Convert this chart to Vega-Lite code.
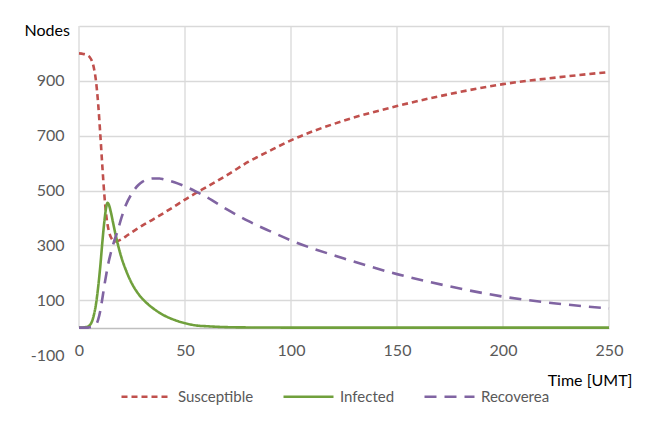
{
  "$schema": "https://vega.github.io/schema/vega-lite/v6.json",
  "width": 530,
  "height": 329,
  "autosize": {"type": "none"},
  "padding": {"left": 79, "top": 26, "right": 41, "bottom": 70},
  "background": "white",
  "config": {
    "view": {"stroke": null},
    "font": "Lato",
    "axis": {"labelFont": "Lato", "titleFont": "Lato"}
  },
  "datasets": {
    "grid": [{"t": 0}, {"t": 50}, {"t": 100}, {"t": 150}, {"t": 200}, {"t": 250}],
    "sir": [
      {"t": 0, "series": "Susceptible", "value": 1000},
      {"t": 2, "series": "Susceptible", "value": 998},
      {"t": 4, "series": "Susceptible", "value": 993},
      {"t": 5, "series": "Susceptible", "value": 987},
      {"t": 6, "series": "Susceptible", "value": 974},
      {"t": 7, "series": "Susceptible", "value": 948},
      {"t": 8, "series": "Susceptible", "value": 900},
      {"t": 9, "series": "Susceptible", "value": 820},
      {"t": 10, "series": "Susceptible", "value": 710},
      {"t": 11, "series": "Susceptible", "value": 590},
      {"t": 12, "series": "Susceptible", "value": 480},
      {"t": 13, "series": "Susceptible", "value": 400},
      {"t": 14, "series": "Susceptible", "value": 355},
      {"t": 15, "series": "Susceptible", "value": 330},
      {"t": 16, "series": "Susceptible", "value": 318},
      {"t": 17, "series": "Susceptible", "value": 314},
      {"t": 18, "series": "Susceptible", "value": 315},
      {"t": 20, "series": "Susceptible", "value": 322},
      {"t": 22, "series": "Susceptible", "value": 332},
      {"t": 25, "series": "Susceptible", "value": 348},
      {"t": 28, "series": "Susceptible", "value": 363},
      {"t": 30, "series": "Susceptible", "value": 373},
      {"t": 35, "series": "Susceptible", "value": 395},
      {"t": 40, "series": "Susceptible", "value": 418},
      {"t": 45, "series": "Susceptible", "value": 442},
      {"t": 50, "series": "Susceptible", "value": 467},
      {"t": 55, "series": "Susceptible", "value": 490},
      {"t": 60, "series": "Susceptible", "value": 512},
      {"t": 70, "series": "Susceptible", "value": 557},
      {"t": 80, "series": "Susceptible", "value": 605},
      {"t": 90, "series": "Susceptible", "value": 645},
      {"t": 100, "series": "Susceptible", "value": 683},
      {"t": 125, "series": "Susceptible", "value": 755},
      {"t": 150, "series": "Susceptible", "value": 808},
      {"t": 175, "series": "Susceptible", "value": 852},
      {"t": 200, "series": "Susceptible", "value": 888},
      {"t": 225, "series": "Susceptible", "value": 912},
      {"t": 250, "series": "Susceptible", "value": 932},
      {"t": 0, "series": "Infected", "value": 0},
      {"t": 2, "series": "Infected", "value": 0.5},
      {"t": 4, "series": "Infected", "value": 3},
      {"t": 5, "series": "Infected", "value": 8},
      {"t": 6, "series": "Infected", "value": 20},
      {"t": 7, "series": "Infected", "value": 45},
      {"t": 8, "series": "Infected", "value": 85},
      {"t": 9, "series": "Infected", "value": 145},
      {"t": 10, "series": "Infected", "value": 220},
      {"t": 11, "series": "Infected", "value": 310},
      {"t": 12, "series": "Infected", "value": 390},
      {"t": 13, "series": "Infected", "value": 445},
      {"t": 13.5, "series": "Infected", "value": 455},
      {"t": 14, "series": "Infected", "value": 450},
      {"t": 15, "series": "Infected", "value": 422},
      {"t": 16, "series": "Infected", "value": 385},
      {"t": 17, "series": "Infected", "value": 348},
      {"t": 18, "series": "Infected", "value": 314},
      {"t": 20, "series": "Infected", "value": 256},
      {"t": 22, "series": "Infected", "value": 212},
      {"t": 25, "series": "Infected", "value": 160},
      {"t": 28, "series": "Infected", "value": 123},
      {"t": 30, "series": "Infected", "value": 104},
      {"t": 32, "series": "Infected", "value": 89},
      {"t": 35, "series": "Infected", "value": 70},
      {"t": 40, "series": "Infected", "value": 45},
      {"t": 45, "series": "Infected", "value": 28},
      {"t": 50, "series": "Infected", "value": 16},
      {"t": 56, "series": "Infected", "value": 7},
      {"t": 60, "series": "Infected", "value": 5},
      {"t": 70, "series": "Infected", "value": 1.5},
      {"t": 80, "series": "Infected", "value": 0.5},
      {"t": 100, "series": "Infected", "value": 0},
      {"t": 150, "series": "Infected", "value": 0},
      {"t": 200, "series": "Infected", "value": 0},
      {"t": 250, "series": "Infected", "value": 0},
      {"t": 0, "series": "Recoverea", "value": 0},
      {"t": 4, "series": "Recoverea", "value": 0},
      {"t": 5, "series": "Recoverea", "value": 1},
      {"t": 6, "series": "Recoverea", "value": 2},
      {"t": 7, "series": "Recoverea", "value": 5},
      {"t": 8, "series": "Recoverea", "value": 10},
      {"t": 9, "series": "Recoverea", "value": 28},
      {"t": 10, "series": "Recoverea", "value": 60},
      {"t": 11, "series": "Recoverea", "value": 105},
      {"t": 12, "series": "Recoverea", "value": 155},
      {"t": 13, "series": "Recoverea", "value": 200},
      {"t": 14, "series": "Recoverea", "value": 240},
      {"t": 15, "series": "Recoverea", "value": 272},
      {"t": 16, "series": "Recoverea", "value": 300},
      {"t": 17, "series": "Recoverea", "value": 325},
      {"t": 18, "series": "Recoverea", "value": 347},
      {"t": 20, "series": "Recoverea", "value": 400},
      {"t": 22, "series": "Recoverea", "value": 445},
      {"t": 25, "series": "Recoverea", "value": 490},
      {"t": 28, "series": "Recoverea", "value": 520},
      {"t": 30, "series": "Recoverea", "value": 532},
      {"t": 35, "series": "Recoverea", "value": 544},
      {"t": 38, "series": "Recoverea", "value": 544},
      {"t": 40, "series": "Recoverea", "value": 541},
      {"t": 45, "series": "Recoverea", "value": 530},
      {"t": 50, "series": "Recoverea", "value": 515},
      {"t": 55, "series": "Recoverea", "value": 497},
      {"t": 60, "series": "Recoverea", "value": 477},
      {"t": 70, "series": "Recoverea", "value": 430},
      {"t": 80, "series": "Recoverea", "value": 388},
      {"t": 90, "series": "Recoverea", "value": 352},
      {"t": 100, "series": "Recoverea", "value": 318},
      {"t": 125, "series": "Recoverea", "value": 252},
      {"t": 150, "series": "Recoverea", "value": 195},
      {"t": 175, "series": "Recoverea", "value": 150},
      {"t": 200, "series": "Recoverea", "value": 113},
      {"t": 225, "series": "Recoverea", "value": 88},
      {"t": 250, "series": "Recoverea", "value": 70}
    ]
  },
  "layer": [
    {
      "data": {"name": "grid"},
      "mark": {"type": "rule", "color": "#d9d9d9", "strokeWidth": 1.3},
      "encoding": {
        "x": {"field": "t", "type": "quantitative"},
        "y": {"datum": 0, "type": "quantitative"},
        "y2": {"datum": 1100}
      }
    },
    {
      "data": {"name": "sir"},
      "mark": {"type": "line", "strokeWidth": 2.6, "interpolate": "monotone"},
      "encoding": {
        "x": {
          "field": "t",
          "type": "quantitative",
          "scale": {"domain": [0, 250], "nice": false, "zero": false},
          "axis": {
            "values": [0, 50, 100, 150, 200, 250],
            "grid": false,
            "domain": false,
            "ticks": false,
            "offset": -27.4,
            "labelPadding": 15,
            "labelFontSize": 16,
            "labelColor": "#595959",
            "labelFlush": false,
            "title": "Time [UMT]",
            "titleFontSize": 16,
            "titleFontWeight": "normal",
            "titleColor": "#000000",
            "titleAlign": "right",
            "titleAnchor": null,
            "titleX": 553,
            "titleY": 53,
            "titleBaseline": "middle"
          }
        },
        "y": {
          "field": "value",
          "type": "quantitative",
          "scale": {"domain": [-100, 1100], "nice": false, "zero": false},
          "axis": {
            "values": [-100, 0, 100, 300, 500, 700, 900, 1100],
            "labelExpr": "datum.value == 0 || datum.value == 1100 ? '' : (datum.value < 0 ? '-100' : datum.label)",
            "grid": true,
            "gridColor": {"condition": {"test": "datum.value == 0", "value": "#bfbfbf"}, "value": "#d9d9d9"},
            "gridOpacity": {"condition": {"test": "datum.value < 0", "value": 0}, "value": 1},
            "gridWidth": 1.3,
            "domain": false,
            "ticks": false,
            "labelPadding": 15,
            "labelFontSize": 16,
            "labelColor": "#595959",
            "labelFlush": false,
            "title": "Nodes",
            "titleAngle": 0,
            "titleFontSize": 16,
            "titleFontWeight": "normal",
            "titleColor": "#000000",
            "titleAlign": "left",
            "titleAnchor": null,
            "titleBaseline": "middle",
            "titleX": -55,
            "titleY": 4
          }
        },
        "color": {
          "field": "series",
          "type": "nominal",
          "sort": ["Susceptible", "Infected", "Recoverea"],
          "scale": {"domain": ["Susceptible", "Infected", "Recoverea"], "range": ["#c0504d", "#70a03c", "#8064a2"]},
          "legend": {
            "title": null,
            "orient": "none",
            "legendX": 41,
            "legendY": 344,
            "direction": "horizontal",
            "symbolType": "stroke",
            "symbolSize": 2500,
            "symbolStrokeWidth": 2.6,
            "labelFont": "Lato",
            "labelFontSize": 15,
            "labelColor": "#595959",
            "labelOffset": 5,
            "columnPadding": 24
          }
        },
        "strokeDash": {
          "field": "series",
          "type": "nominal",
          "sort": ["Susceptible", "Infected", "Recoverea"],
          "scale": {"domain": ["Susceptible", "Infected", "Recoverea"], "range": [[6, 4], [1, 0], [12, 8]]},
          "legend": {
            "title": null,
            "orient": "none",
            "legendX": 41,
            "legendY": 344,
            "direction": "horizontal",
            "symbolType": "stroke",
            "symbolSize": 2500,
            "symbolStrokeWidth": 2.6,
            "labelFont": "Lato",
            "labelFontSize": 15,
            "labelColor": "#595959",
            "labelOffset": 5,
            "columnPadding": 24
          }
        }
      }
    }
  ]
}
